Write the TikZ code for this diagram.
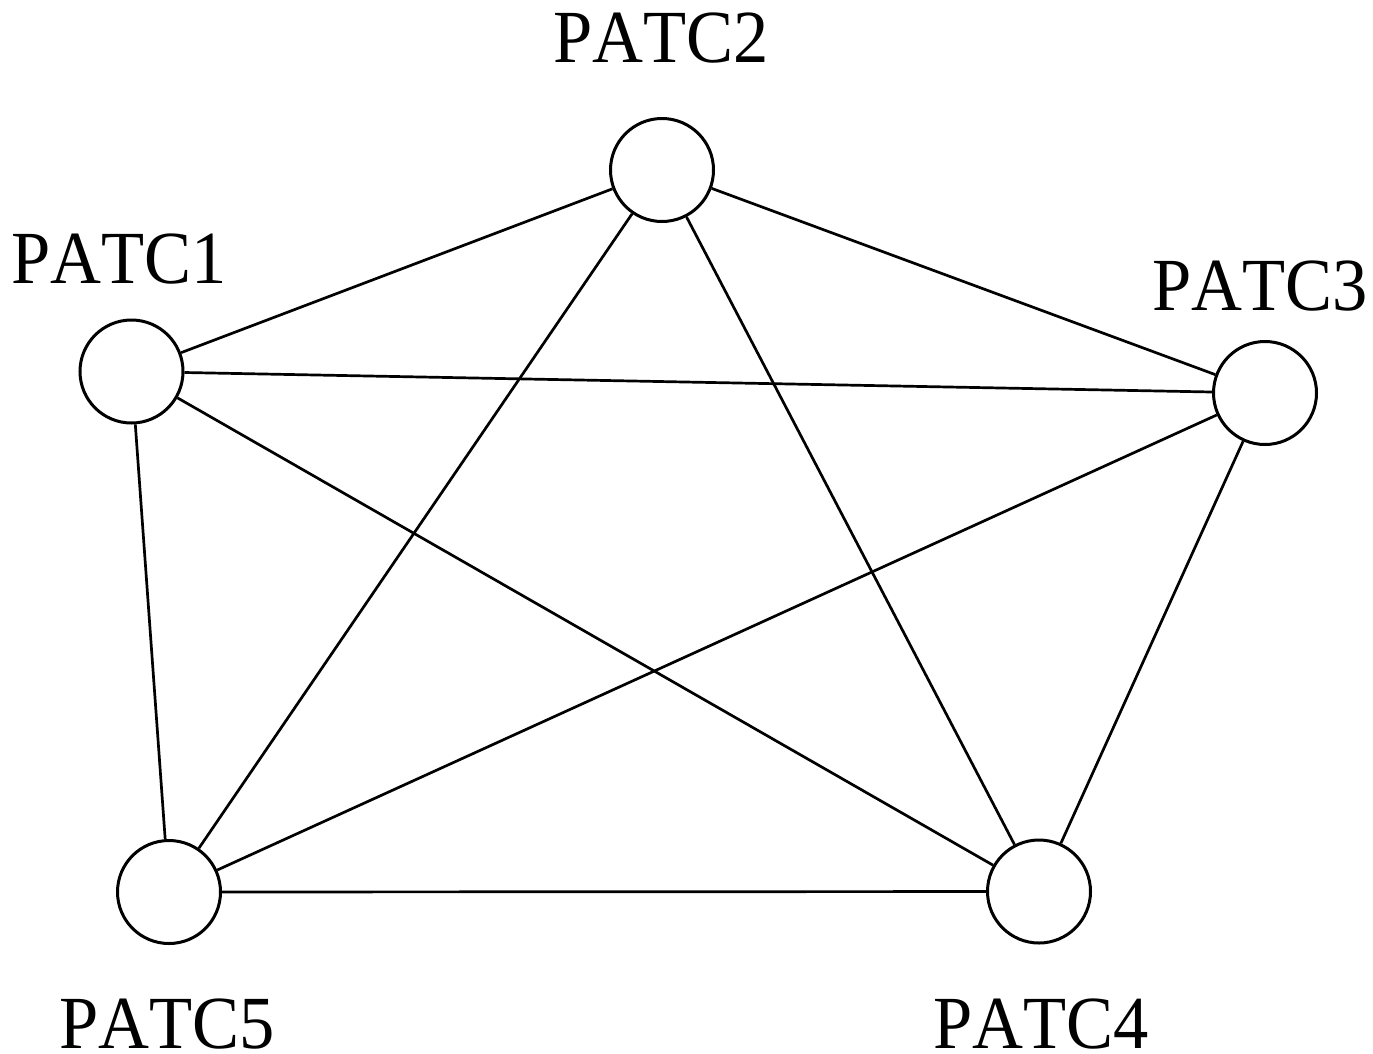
\documentclass[tikz,border=0pt]{standalone}
\usepackage{fontspec}
\setmainfont{Liberation Serif}[Kerning=Off]
\begin{document}
\begin{tikzpicture}[x=1pt,y=-1pt,
  patc/.style={circle,draw,line width=3pt,minimum size=103pt,inner sep=0pt,fill=white},
  lab/.style={anchor=base,inner sep=0pt,text depth=0pt,font=\fontsize{75}{75}\selectfont},
  edge/.style={line width=2.7pt}]
\useasboundingbox (0,0) rectangle (1373,1053);
\node[patc] (p1) at (131.5,371.5) {};
\node[patc] (p2) at (662,170) {};
\node[patc] (p3) at (1265,393) {};
\node[patc] (p4) at (1039,891.5) {};
\node[patc] (p5) at (169,892) {};
\node[lab] (l2) at (661,62) {\scalebox{0.94}[1]{PATC2}};
\node[lab] (l1) at (119,283) {\scalebox{0.94}[1]{PATC1}};
\node[lab] (l3) at (1260,310) {\scalebox{0.94}[1]{PATC3}};
\node[lab] (l5) at (167,1048) {\scalebox{0.94}[1]{PATC5}};
\node[lab] (l4) at (1041,1048) {\scalebox{0.94}[1]{PATC4}};
\foreach \a/\b in {p1/p2,p1/p3,p1/p4,p1/p5,p2/p3,p2/p4,p2/p5,p3/p4,p3/p5,p4/p5}
  \draw[edge] (\a) -- (\b);
\end{tikzpicture}
\end{document}
